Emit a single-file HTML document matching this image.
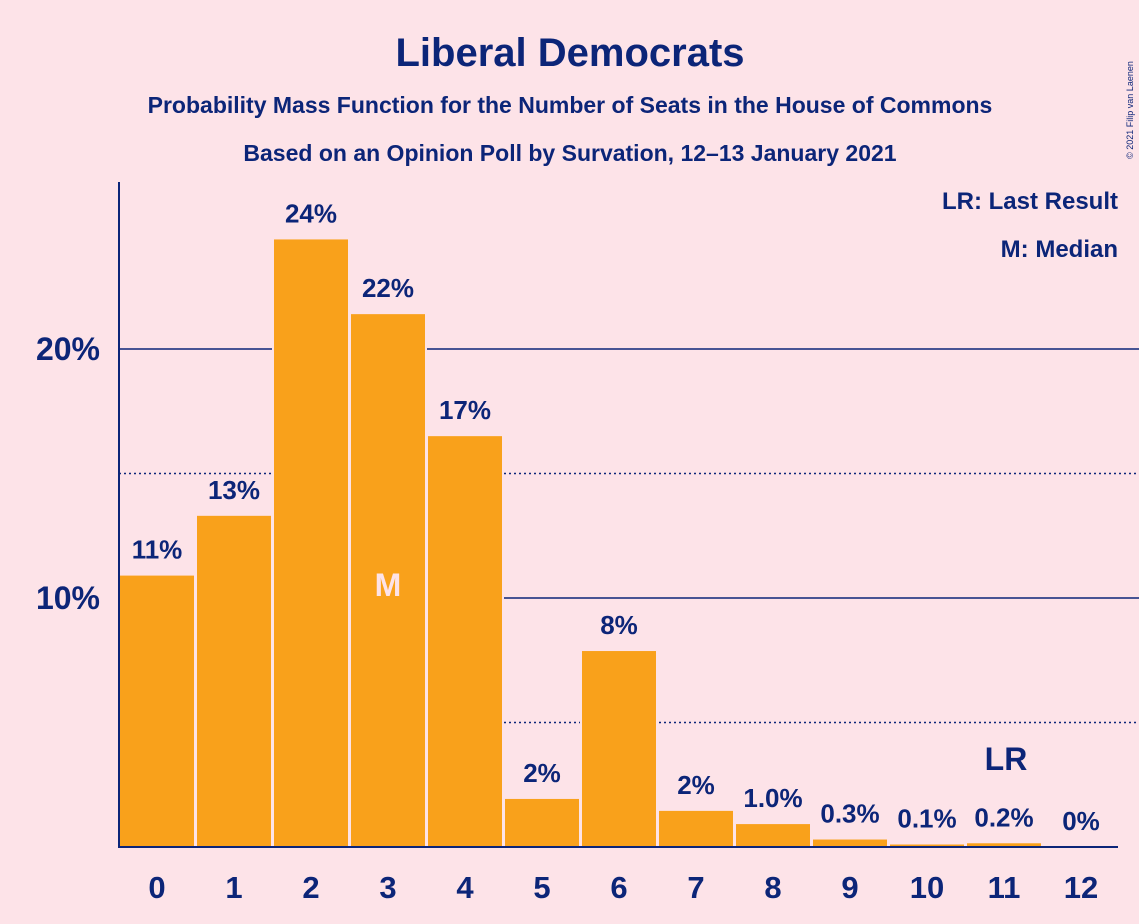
<!DOCTYPE html>
<html><head><meta charset="utf-8"><style>
body{margin:0;background:#fde3e8;}
svg{display:block;font-family:"Liberation Sans",sans-serif;font-weight:bold;}
</style></head><body>
<svg id="c" width="1139" height="924">
<rect width="1139" height="924" fill="#fde3e8"/>
<text x="570" y="66" text-anchor="middle" font-size="40" fill="#0c2578">Liberal Democrats</text>
<text x="570" y="113" text-anchor="middle" font-size="23" fill="#0c2578">Probability Mass Function for the Number of Seats in the House of Commons</text>
<text x="570" y="161" text-anchor="middle" font-size="23" fill="#0c2578">Based on an Opinion Poll by Survation, 12–13 January 2021</text>
<text x="1118" y="209" text-anchor="end" font-size="24" fill="#0c2578">LR: Last Result</text>
<text x="1118" y="257" text-anchor="end" font-size="24" fill="#0c2578">M: Median</text>
<text x="1133" y="110" font-size="9" font-weight="normal" fill="#0c2578" transform="rotate(-90 1133 110)" text-anchor="middle">© 2021 Filip van Laenen</text>
<g id="grid"></g><g id="bars"></g><g id="labels"></g>
<line x1="119" y1="182" x2="119" y2="848" stroke="#0c2578" stroke-width="2"/>
<line x1="119" y1="847" x2="1118" y2="847" stroke="#0c2578" stroke-width="2"/>
</svg>
<script>
const categories=[0,1,2,3,4,5,6,7,8,9,10,11,12];
const values=[10.9,13.3,24.4,21.4,16.5,1.93,7.87,1.45,0.92,0.3,0.1,0.15,0];
const valueLabels=["11%","13%","24%","22%","17%","2%","8%","2%","1.0%","0.3%","0.1%","0.2%","0%"];
const yTicks=[10,20];
const yDotted=[5,15];
const medianIndex=3, lastResultIndex=11;
const NS="http://www.w3.org/2000/svg";
const y=v=>847-v*24.9;
const x=i=>157+77*i;
function mk(t,a,p){const e=document.createElementNS(NS,t);for(const k in a)e.setAttribute(k,a[k]);p.appendChild(e);return e;}
const grid=document.getElementById('grid'),bars=document.getElementById('bars'),labels=document.getElementById('labels');
yTicks.forEach(v=>{
 const l=mk('line',{x1:119,x2:1139,y1:y(v),y2:y(v),stroke:'#0c2578','stroke-width':1.5},grid);
 
 
 const t=mk('text',{x:100,y:y(v)+11,'text-anchor':'end','font-size':32,fill:'#0c2578'},grid);
 t.textContent=v+'%';
 
 
});
yDotted.forEach(v=>{
 const l=mk('line',{x1:119,x2:1139,y1:y(v),y2:y(v),stroke:'#0c2578','stroke-width':1.5,'stroke-dasharray':'2,3'},grid);
 
 
});
categories.forEach((c,i)=>{
 const v=values[i];
 if(v>0){const g=mk('rect',{x:x(i)-39,y:y(v),width:78,height:847-y(v),fill:'#fde3e8'},bars);
 
 }
});
categories.forEach((c,i)=>{
 const v=values[i];
 const r=mk('rect',{x:x(i)-37,y:y(v),width:74,height:847-y(v),fill:'#f9a11b'},bars);
 
 
 const t=mk('text',{x:x(i),y:y(v)-17,'text-anchor':'middle','font-size':26,fill:'#0c2578'},labels);
 t.textContent=valueLabels[i];
 
 
 const xt=mk('text',{x:x(i),y:898,'text-anchor':'middle','font-size':31,fill:'#0c2578'},labels);
 xt.textContent=c;
 
 
});
const m=mk('text',{x:x(medianIndex),y:596,'text-anchor':'middle','font-size':32,fill:'#fde3e8'},labels);
m.textContent='M';


const lr=mk('text',{x:x(lastResultIndex)+2,y:770,'text-anchor':'middle','font-size':32,fill:'#0c2578'},labels);
lr.textContent='LR';


</script>
</body></html>
